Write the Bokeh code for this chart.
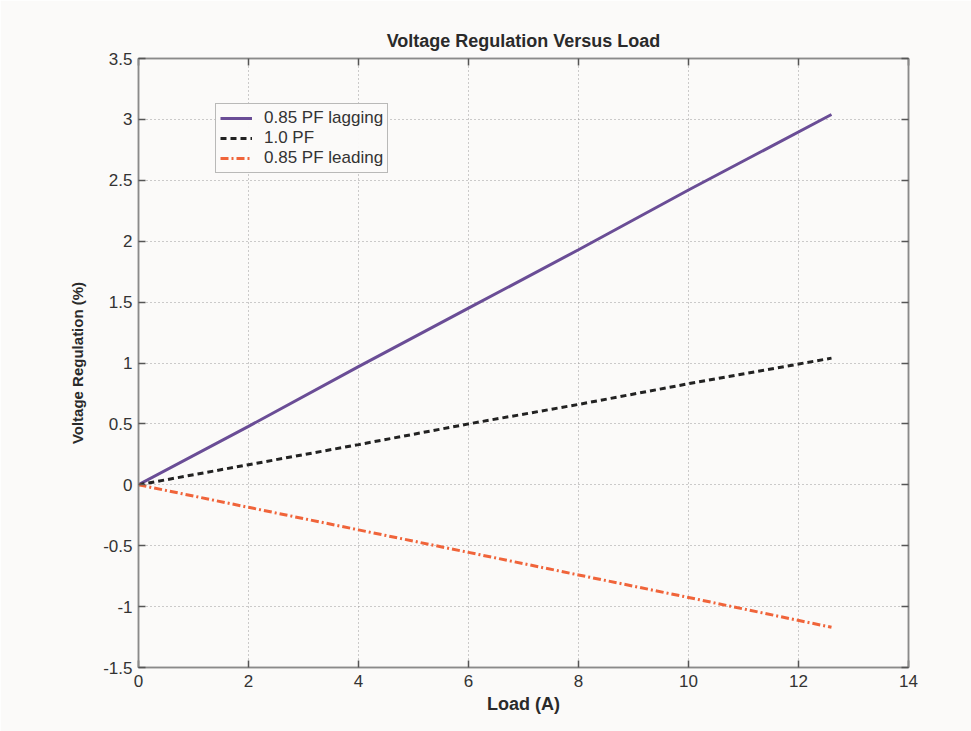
from bokeh.plotting import figure
from bokeh.models import LinearAxis, FixedTicker, Legend, LegendItem, Range1d, Grid
from bokeh.embed import file_html
from bokeh.resources import INLINE

load = [0, 2, 4, 6, 8, 10, 12.6]
lagging = [0, 0.48, 0.97, 1.45, 1.93, 2.42, 3.04]
unity = [0, 0.165, 0.33, 0.5, 0.66, 0.83, 1.04]
leading = [0, -0.185, -0.37, -0.555, -0.74, -0.925, -1.17]

x_ticks = [0, 2, 4, 6, 8, 10, 12, 14]
x_tick_labels = ["0", "2", "4", "6", "8", "10", "12", "14"]
y_ticks = [-1.5, -1, -0.5, 0, 0.5, 1, 1.5, 2, 2.5, 3, 3.5]
y_tick_labels = ["-1.5", "-1", "-0.5", "0", "0.5", "1", "1.5", "2", "2.5", "3", "3.5"]

BG = "#fbfaf9"
FONT = "Liberation Sans"

p = figure(width=971, height=731, output_backend="svg", toolbar_location=None,
           x_range=Range1d(0, 14), y_range=Range1d(-1.5, 3.5),
           min_border_left=138, min_border_right=63, min_border_top=58, min_border_bottom=64,
           background_fill_color=BG, border_fill_color=BG, x_axis_type=None, y_axis_type=None)
p.outline_line_color = "#8a8a8a"
p.outline_line_width = 1.5

p.title.text = "Voltage Regulation Versus Load"
p.title.align = "center"
p.title.text_font = FONT
p.title.text_font_size = "18px"
p.title.text_font_style = "bold"
p.title.text_color = "#2a2a2a"
p.title.standoff = 16

def style_axis(ax, ticks, labels, show):
    ax.ticker = FixedTicker(ticks=ticks)
    ax.major_label_overrides = {t: l for t, l in zip(ticks, labels)}
    ax.axis_line_color = "#8a8a8a"
    ax.axis_line_width = 1.5
    ax.major_tick_line_color = "#555555"
    ax.major_tick_line_width = 1.5
    ax.major_tick_in = 7
    ax.major_tick_out = 0
    ax.minor_tick_line_color = None
    ax.major_label_text_font = FONT
    ax.major_label_text_font_size = "17px"
    ax.major_label_text_color = "#333333"
    ax.axis_label_text_font = FONT
    ax.axis_label_text_font_size = "18px"
    ax.axis_label_text_font_style = "bold"
    ax.axis_label_text_color = "#2a2a2a"
    if not show:
        ax.major_label_text_color = None
        ax.major_label_text_font_size = "1px"
        ax.major_label_standoff = 0

xb = LinearAxis(axis_label="Load (A)")
style_axis(xb, x_ticks, x_tick_labels, True)
xb.major_label_standoff = 7
xb.axis_label_standoff = 4
p.add_layout(xb, "below")
yl = LinearAxis(axis_label="Voltage Regulation (%)")
style_axis(yl, y_ticks, y_tick_labels, True)
yl.major_label_standoff = 6
yl.axis_label_standoff = 14
yl.axis_label_text_font_size = "15px"
p.add_layout(yl, "left")
xt = LinearAxis()
style_axis(xt, x_ticks, x_tick_labels, False)
p.add_layout(xt, "above")
yr = LinearAxis()
style_axis(yr, y_ticks, y_tick_labels, False)
p.add_layout(yr, "right")

p.add_layout(Grid(dimension=0, ticker=FixedTicker(ticks=x_ticks), grid_line_color="#9a9a9a",
                  grid_line_dash="1 3", grid_line_width=1))
p.add_layout(Grid(dimension=1, ticker=FixedTicker(ticks=y_ticks), grid_line_color="#9a9a9a",
                  grid_line_dash="1 3", grid_line_width=1))

r1 = p.line(load, lagging, line_color="#6a4d96", line_width=3)
r2 = p.line(load, unity, line_color="#222222", line_width=3, line_dash="6 4")
r3 = p.line(load, leading, line_color="#f0643a", line_width=3, line_dash="8 3 2 3")

legend = Legend(items=[LegendItem(label="0.85 PF lagging", renderers=[r1]),
                       LegendItem(label="1.0 PF", renderers=[r2]),
                       LegendItem(label="0.85 PF leading", renderers=[r3])],
                location=(77, 494), background_fill_color=BG, border_line_color="#777777",
                border_line_width=1, label_text_font=FONT, label_text_font_size="17px",
                label_text_color="#333333", glyph_width=32, glyph_height=16,
                label_height=16, spacing=0, padding=4, margin=0, label_standoff=12)
p.add_layout(legend, "center")

open("out.html", "w").write(file_html(p, INLINE))
